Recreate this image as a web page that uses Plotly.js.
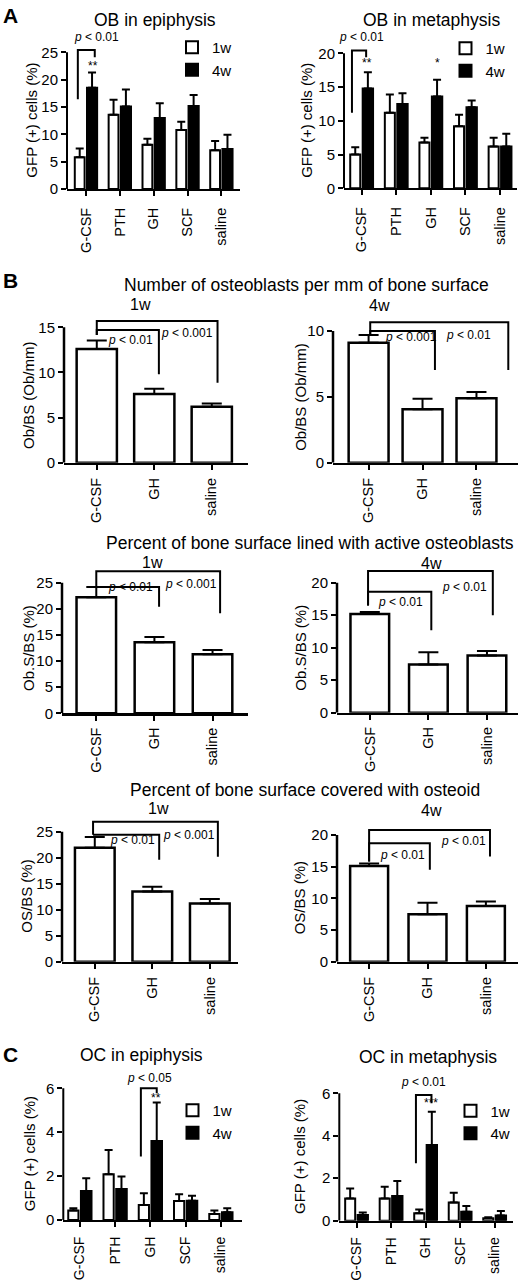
<!DOCTYPE html>
<html><head><meta charset="utf-8">
<script src="https://cdn.plot.ly/plotly-3.0.1.min.js"></script>
<style>html,body{margin:0;padding:0;background:#fff}</style>
</head><body><div id="chart" style="width:520px;height:1284px"></div>
<script>
// ---------- data ----------
const groupsA = ['G-CSF', 'PTH', 'GH', 'SCF', 'saline'];
const groupsB = ['G-CSF', 'GH', 'saline'];
const seriesNames = ['1w', '4w'];

// A: OB in epiphysis (GFP+ cells %)
const obEpi1w    = [5.8, 13.6, 8.1, 10.8, 7.1];
const obEpi1wErr = [1.6, 2.7, 1.1, 1.5, 1.7];
const obEpi4w    = [18.5, 15.1, 13.0, 15.2, 7.3];
const obEpi4wErr = [2.8, 3.1, 2.7, 2.0, 2.6];
// A: OB in metaphysis
const obMeta1w    = [5.0, 11.2, 6.8, 9.2, 6.2];
const obMeta1wErr = [1.1, 2.7, 0.7, 1.7, 1.3];
const obMeta4w    = [14.8, 12.5, 13.6, 12.0, 6.2];
const obMeta4wErr = [2.4, 1.6, 2.5, 1.0, 1.9];

// B: Ob/BS (Ob/mm)
const obBs1w = [12.6, 7.6, 6.2];    const obBs1wErr = [0.95, 0.6, 0.35];
const obBs4w = [9.1, 4.05, 4.9];    const obBs4wErr = [0.6, 0.8, 0.47];
// B: Ob.S/BS (%)
const obSBs1w = [22.2, 13.6, 11.3]; const obSBs1wErr = [2.0, 1.0, 0.8];
const obSBs4w = [15.2, 7.4, 8.8];   const obSBs4wErr = [0.3, 1.9, 0.7];
// B: OS/BS (%)
const osBs1w = [21.9, 13.5, 11.2];  const osBs1wErr = [2.1, 0.9, 0.85];
const osBs4w = [15.1, 7.5, 8.8];    const osBs4wErr = [0.4, 1.8, 0.7];

// C: OC in epiphysis
const ocEpi1w    = [0.43, 2.08, 0.68, 0.87, 0.27];
const ocEpi1wErr = [0.10, 1.11, 0.54, 0.30, 0.16];
const ocEpi4w    = [1.32, 1.41, 3.60, 0.88, 0.35];
const ocEpi4wErr = [0.58, 0.57, 1.75, 0.23, 0.18];
// C: OC in metaphysis
const ocMeta1w    = [1.05, 1.05, 0.35, 0.86, 0.12];
const ocMeta1wErr = [0.47, 0.55, 0.18, 0.46, 0.04];
const ocMeta4w    = [0.27, 1.16, 3.56, 0.42, 0.24];
const ocMeta4wErr = [0.12, 0.71, 1.57, 0.27, 0.22];

// ---------- layout helpers ----------
const W = 520, H = 1284;
const FONT = "'Liberation Sans', Arial, sans-serif";
const PTXT = { '0.01': '<i>p</i> &lt; 0.01', '0.001': '<i>p</i> &lt; 0.001', '0.05': '<i>p</i> &lt; 0.05' };

const specs = [
  { cats: groupsA, y1: obEpi1w, e1: obEpi1wErr, y2: obEpi4w, e2: obEpi4wErr, legend: 'legend',
    px: [67, 240], py0: 189, pyMax: 52.3, ymax: 25, dtick: 5, ytop: 28.5, xr: [-0.56, 4.55],
    ytitle: 'GFP (+) cells (%)', tx: 32, lw: 2, xstand: 6, xfs: 14.5,
    brackets: [[-0.24, 16.4, 25.4, 0.26, 24.1]],
    pvals: [[0.32, 27.8, '0.01']], stars: [[0.2, 22.5, '**']] },
  { cats: groupsA, y1: obMeta1w, e1: obMeta1wErr, y2: obMeta4w, e2: obMeta4wErr, legend: 'legend2',
    px: [344, 517], py0: 188.3, pyMax: 53.3, ymax: 20, dtick: 5, ytop: 23, xr: [-0.51, 4.49],
    ytitle: 'GFP (+) cells (%)', tx: 307, lw: 2, xstand: 6, xfs: 14.5,
    brackets: [[-0.28, 11.2, 20.4, 0.13, 19.4]],
    pvals: [[0.0, 22.4, '0.01']], stars: [[0.16, 18.5, '**'], [2.19, 18.5, '*']] },
  { cats: groupsB, y1: obBs1w, e1: obBs1wErr, bw: 0.7,
    px: [64, 248], py0: 462.7, pyMax: 327.3, ymax: 15, dtick: 5, ytop: 16.2, xr: [-0.57, 2.63],
    ytitle: 'Ob/BS (Ob/mm)', tx: 29, lw: 2.5, xstand: 2, xfs: 14.5,
    brackets: [[0, 14.15, 15.7, 2.1, 8.86], [0, 14.15, 14.7, 1.08, 9.8]],
    pvals: [[0.59, 13.6, '0.01'], [1.57, 14.4, '0.001']], stars: [] },
  { cats: groupsB, y1: obBs4w, e1: obBs4wErr, bw: 0.74,
    px: [333, 518], py0: 462.7, pyMax: 331, ymax: 10, dtick: 5, ytop: 11, xr: [-0.66, 2.77],
    ytitle: 'Ob/BS (Ob/mm)', tx: 301, lw: 2.5, xstand: 2, xfs: 14.5,
    brackets: [[0.03, 9.7, 10.66, 2.59, 7.04], [0.03, 9.7, 10.0, 1.23, 7.04]],
    pvals: [[0.79, 9.55, '0.001'], [1.86, 9.7, '0.01']], stars: [] },
  { cats: groupsB, y1: obSBs1w, e1: obSBs1wErr, bw: 0.68,
    px: [62, 248], py0: 713.3, pyMax: 582.7, ymax: 25, dtick: 5, ytop: 28, xr: [-0.59, 2.61],
    ytitle: 'Ob.S/BS (%)', tx: 29, lw: 2.5, xstand: 1, xfs: 14.5,
    brackets: [[0, 24.2, 27.2, 2.13, 19.16], [0, 24.2, 24.2, 1.08, 20.4]],
    pvals: [[0.58, 24.2, '0.01'], [1.63, 24.8, '0.001']], stars: [] },
  { cats: groupsB, y1: obSBs4w, e1: obSBs4wErr, bw: 0.66,
    px: [337, 518], py0: 712.7, pyMax: 582.7, ymax: 20, dtick: 5, ytop: 22.3, xr: [-0.56, 2.53],
    ytitle: 'Ob.S/BS (%)', tx: 301, lw: 2.5, xstand: 1, xfs: 14.5,
    brackets: [[-0.03, 16.5, 21.8, 2.1, 15.0], [-0.03, 16.5, 18.6, 1.05, 12.7]],
    pvals: [[0.53, 17.1, '0.01'], [1.62, 19.4, '0.01']], stars: [] },
  { cats: groupsB, y1: osBs1w, e1: osBs1wErr, bw: 0.69,
    px: [62, 238], py0: 961.7, pyMax: 831.7, ymax: 25, dtick: 5, ytop: 27.5, xr: [-0.57, 2.49],
    ytitle: 'OS/BS (%)', tx: 27, lw: 2.5, xstand: 2, xfs: 14.5,
    brackets: [[-0.03, 24.4, 26.9, 2.14, 20.2], [-0.03, 24.4, 24.4, 1.12, 19.6]],
    pvals: [[0.66, 23.4, '0.01'], [1.63, 24.4, '0.001']], stars: [] },
  { cats: groupsB, y1: osBs4w, e1: osBs4wErr, bw: 0.65,
    px: [337, 518], py0: 961.7, pyMax: 835, ymax: 20, dtick: 5, ytop: 21.3, xr: [-0.55, 2.55],
    ytitle: 'OS/BS (%)', tx: 299, lw: 2.5, xstand: 2, xfs: 14.5,
    brackets: [[0, 15.8, 20.8, 2.07, 16.6], [0, 15.8, 18.7, 1.04, 14.5]],
    pvals: [[0.58, 16.9, '0.01'], [1.62, 19.0, '0.01']], stars: [] },
  { cats: groupsA, y1: ocEpi1w, e1: ocEpi1wErr, y2: ocEpi4w, e2: ocEpi4wErr, legend: 'legend3',
    px: [63.3, 241.7], py0: 1220, pyMax: 1088.3, ymax: 6, dtick: 2, ytop: 6.8, xr: [-0.47, 4.59],
    ytitle: 'GFP (+) cells (%)', tx: 29, lw: 2, xstand: 4, xfs: 14,
    brackets: [[1.73, 2.89, 6.0, 2.18, 5.78]],
    pvals: [[1.97, 6.46, '0.05']], stars: [[2.16, 5.58, '**']] },
  { cats: groupsA, y1: ocMeta1w, e1: ocMeta1wErr, y2: ocMeta4w, e2: ocMeta4wErr, legend: 'legend4',
    px: [339.3, 513.3], py0: 1220.7, pyMax: 1093.3, ymax: 6, dtick: 2, ytop: 6.8, xr: [-0.5, 4.54],
    ytitle: 'GFP (+) cells (%)', tx: 299, lw: 2, xstand: 4, xfs: 14,
    brackets: [[1.72, 2.7, 5.92, 2.17, 5.53]],
    pvals: [[1.95, 6.55, '0.01']], stars: [[2.17, 5.53, '***']] }
];

const traces = [];
const layout = {
  width: W, height: H, margin: { l: 0, r: 0, t: 0, b: 0 },
  paper_bgcolor: '#fff', plot_bgcolor: 'rgba(0,0,0,0)',
  barmode: 'overlay', showlegend: true,
  font: { family: FONT, color: '#000', size: 15 },
  shapes: [], annotations: []
};

const legendPos = { legend: [172, 31], legend2: [445.5, 32], legend3: [172.5, 1094], legend4: [450.5, 1094.5] };
Object.keys(legendPos).forEach(k => {
  layout[k] = {
    x: legendPos[k][0] / W, y: 1 - legendPos[k][1] / H, xanchor: 'left', yanchor: 'top',
    bgcolor: 'rgba(0,0,0,0)', borderwidth: 0, font: { size: 15, family: FONT, color: '#000' },
    tracegroupgap: 0, traceorder: 'normal'
  };
});

function errBar(arr, w) {
  return { type: 'data', symmetric: false, array: arr, color: '#000', thickness: 2, width: w, visible: true };
}

function label(text, px, py, size, bold, angle) {
  layout.annotations.push({ xref: 'paper', yref: 'paper', x: px / W, y: 1 - py / H,
    text: bold ? '<b>' + text + '</b>' : text, showarrow: false, xanchor: 'center', yanchor: 'middle',
    textangle: angle || 0, font: { size: size, family: FONT, color: '#000' } });
}

specs.forEach((s, i) => {
  const n = i + 1;
  const xa = n === 1 ? 'x' : 'x' + n;
  const ya = n === 1 ? 'y' : 'y' + n;
  const scale = (s.py0 - s.pyMax) / s.ymax;
  const topPx = s.py0 - s.ytop * scale;
  layout[n === 1 ? 'xaxis' : 'xaxis' + n] = {
    domain: [s.px[0] / W, s.px[1] / W], anchor: ya, type: 'category', range: s.xr,
    showline: true, linewidth: s.lw, linecolor: '#000',
    ticks: 'outside', ticklen: 5, tickwidth: 2, tickcolor: '#000', ticklabelstandoff: s.xstand,
    tickangle: -90, tickfont: { size: s.xfs, family: FONT, color: '#000' },
    showgrid: false, zeroline: false, fixedrange: true
  };
  layout[n === 1 ? 'yaxis' : 'yaxis' + n] = {
    domain: [1 - s.py0 / H, 1 - topPx / H], anchor: xa, range: [0, s.ytop],
    tick0: 0, dtick: s.dtick, showline: false,
    ticks: 'outside', ticklen: 5, tickwidth: 2, tickcolor: '#000',
    tickfont: { size: 15, family: FONT, color: '#000' },
    showgrid: false, zeroline: false, fixedrange: true
  };
  // y axis title, centred on the 0..max part of the axis
  label(s.ytitle, s.tx, (s.py0 + s.pyMax) / 2, 15, false, -90);
  // y axis line only up to the top tick
  layout.shapes.push({ type: 'line', xref: xa + ' domain', yref: ya, x0: 0, x1: 0, y0: 0, y1: s.ymax,
    line: { color: '#000', width: s.lw }, layer: 'above' });

  if (s.y2) {
    traces.push({ type: 'bar', name: seriesNames[0], x: s.cats, y: s.y1, xaxis: xa, yaxis: ya,
      offset: -0.33, width: 0.29, marker: { color: '#fff', line: { color: '#000', width: 2 } },
      error_y: errBar(s.e1, 4), legend: s.legend, showlegend: true, hoverinfo: 'skip' });
    traces.push({ type: 'bar', name: seriesNames[1], x: s.cats, y: s.y2, xaxis: xa, yaxis: ya,
      offset: 0.03, width: 0.3, marker: { color: '#000', line: { color: '#000', width: 2 } },
      error_y: errBar(s.e2, 4), legend: s.legend, showlegend: true, hoverinfo: 'skip' });
  } else {
    traces.push({ type: 'bar', name: '', x: s.cats, y: s.y1, xaxis: xa, yaxis: ya,
      width: s.bw, marker: { color: '#fff', line: { color: '#000', width: 2.5 } },
      error_y: errBar(s.e1, 10), showlegend: false, hoverinfo: 'skip' });
  }

  s.brackets.forEach(b => {
    layout.shapes.push({ type: 'path', xref: xa, yref: ya,
      path: `M${b[0]},${b[1]} V${b[2]} H${b[3]} V${b[4]}`,
      line: { color: '#000', width: 2 }, layer: 'above' });
  });
  s.pvals.forEach(p => {
    layout.annotations.push({ xref: xa, yref: ya, x: p[0], y: p[1], text: PTXT[p[2]], showarrow: false,
      xanchor: 'center', yanchor: 'middle', font: { size: 12, family: FONT, color: '#000' } });
  });
  s.stars.forEach(p => {
    layout.annotations.push({ xref: xa, yref: ya, x: p[0], y: p[1], text: p[2], showarrow: false,
      xanchor: 'center', yanchor: 'middle', font: { size: 12, family: FONT, color: '#000' } });
  });
});

// titles and panel letters
label('A', 10, 15, 21, true);
label('OB in epiphysis', 155, 20, 17.5);
label('OB in metaphysis', 431, 20, 17.5);
label('B', 10, 280, 21, true);
label('Number of osteoblasts per mm of bone surface', 306, 285, 17.5);
label('1w', 140, 304, 16);
label('4w', 379, 305, 16);
label('Percent of bone surface lined with active osteoblasts', 310, 543, 17.5);
label('1w', 152, 562, 16);
label('4w', 431, 563, 16);
label('Percent of bone surface covered with osteoid', 305, 790, 17.5);
label('1w', 158, 808, 16);
label('4w', 431, 810, 16);
label('C', 10, 1054, 21, true);
label('OC in epiphysis', 141, 1055, 17.5);
label('OC in metaphysis', 428, 1057, 17.5);

Plotly.newPlot('chart', traces, layout, { staticPlot: true, displayModeBar: false });
</script>
</body></html>
